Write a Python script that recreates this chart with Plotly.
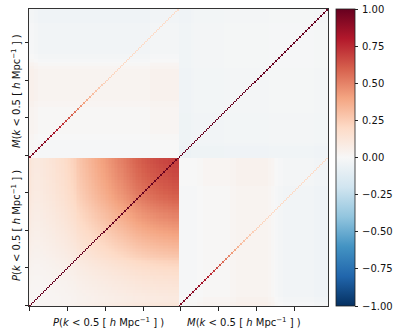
import plotly.graph_objects as go
import plotly.express as px

# ---- data (per k-bin, 99 bins per block) ----
block_names = ["P", "M"]
tick_vals = [0, 25, 50, 75, 100, 125, 150, 175]
cbar_ticks = [-1.0, -0.75, -0.5, -0.25, 0.0, 0.25, 0.5, 0.75, 1.0]

# amplitude of the P-P off-diagonal correlation (r_ij ~ a_i * a_j)
pp_amp = [0.16, 0.14, 0.13, 0.12, 0.12, 0.12, 0.12, 0.13, 0.13, 0.14,
          0.14, 0.15, 0.15, 0.16, 0.16, 0.17, 0.17, 0.18, 0.19, 0.19,
          0.20, 0.21, 0.21, 0.22, 0.23, 0.24, 0.25, 0.26, 0.27, 0.28,
          0.29, 0.31, 0.33, 0.34, 0.35, 0.36, 0.37, 0.38, 0.39, 0.40,
          0.41, 0.42, 0.43, 0.44, 0.45, 0.46, 0.47, 0.48, 0.49, 0.50,
          0.51, 0.52, 0.53, 0.54, 0.55, 0.56, 0.57, 0.58, 0.59, 0.60,
          0.60, 0.61, 0.62, 0.63, 0.64, 0.65, 0.66, 0.67, 0.68, 0.69,
          0.70, 0.71, 0.72, 0.72, 0.73, 0.74, 0.74, 0.75, 0.76, 0.76,
          0.77, 0.77, 0.78, 0.78, 0.79, 0.79, 0.80, 0.80, 0.80, 0.81,
          0.81, 0.81, 0.82, 0.82, 0.82, 0.83, 0.83, 0.83, 0.83]

# P_i - M_i cross correlation (diagonal of the off-diagonal blocks)
mp_diag = [0.95, 0.95, 0.94, 0.94, 0.93, 0.93, 0.92, 0.92, 0.91, 0.90,
           0.89, 0.88, 0.87, 0.86, 0.85, 0.84, 0.83, 0.82, 0.80, 0.79,
           0.77, 0.75, 0.73, 0.71, 0.69, 0.67, 0.64, 0.62, 0.60, 0.57,
           0.55, 0.52, 0.50, 0.48, 0.45, 0.43, 0.41, 0.39, 0.37, 0.35,
           0.34, 0.32, 0.31, 0.30, 0.29, 0.28, 0.27, 0.26, 0.25, 0.25,
           0.24, 0.24, 0.23, 0.23, 0.22, 0.22, 0.22, 0.21, 0.21, 0.21,
           0.21, 0.20, 0.20, 0.20, 0.20, 0.20, 0.20, 0.20, 0.20, 0.20,
           0.20, 0.20, 0.20, 0.20, 0.20, 0.20, 0.19, 0.19, 0.19, 0.19,
           0.19, 0.19, 0.19, 0.19, 0.19, 0.19, 0.19, 0.19, 0.19, 0.19,
           0.19, 0.19, 0.19, 0.19, 0.19, 0.19, 0.19, 0.19, 0.19]

# M-P off-diagonal level per M bin and per P bin
m_off = [-0.01, -0.01, -0.01, -0.01, -0.01, -0.01, -0.01, -0.01, -0.01, -0.01,
         -0.01, -0.01, 0.00, 0.00, 0.00, 0.00, 0.01, 0.01, 0.01, 0.01,
         0.01, 0.01, 0.01, 0.01, 0.01, 0.01, 0.01, 0.01, 0.01, 0.01,
         0.01, 0.01, 0.01, 0.01, 0.02, 0.02, 0.02, 0.02, 0.03, 0.03,
         0.03, 0.03, 0.03, 0.03, 0.03, 0.03, 0.03, 0.03, 0.03, 0.03,
         0.03, 0.03, 0.03, 0.03, 0.03, 0.03, 0.03, 0.03, 0.03, 0.02,
         0.02, 0.01, 0.01, 0.00, -0.01, -0.01, -0.02, -0.02, -0.02, -0.03,
         -0.03, -0.03, -0.03, -0.03, -0.03, -0.03, -0.03, -0.03, -0.03, -0.03,
         -0.03, -0.03, -0.03, -0.03, -0.03, -0.03, -0.03, -0.03, -0.03, -0.03,
         -0.04, -0.04, -0.04, -0.04, -0.04, -0.04, -0.04, -0.04, -0.04]
p_off = [0.02, 0.02, 0.02, 0.01, 0.01, 0.01, 0.00, 0.00, 0.00, 0.00,
         0.00, 0.00, 0.00, 0.00, 0.00, 0.00, 0.00, 0.00, 0.00, 0.00,
         0.00, 0.00, 0.00, 0.00, 0.00, 0.00, 0.00, 0.00, 0.00, 0.00,
         0.00, 0.00, 0.00, 0.00, 0.00, 0.00, 0.00, 0.00, 0.00, 0.00,
         0.00, 0.00, 0.00, 0.00, 0.00, 0.00, 0.00, 0.00, 0.00, 0.00,
         0.00, 0.00, 0.00, 0.00, 0.00, 0.00, 0.00, 0.00, 0.00, 0.00,
         0.00, 0.00, 0.00, 0.00, 0.00, 0.00, 0.00, 0.00, 0.00, 0.00,
         0.00, 0.00, 0.00, 0.00, 0.00, 0.00, 0.00, 0.00, 0.00, 0.00,
         0.01, 0.01, 0.01, 0.01, 0.01, 0.01, 0.01, 0.01, 0.01, 0.01,
         0.01, 0.01, 0.01, 0.01, 0.01, 0.01, 0.01, 0.01, 0.01]

# M-M off-diagonal level per M bin
mm_lvl = [-0.03, -0.03, -0.03, -0.03, -0.03, -0.03, -0.03, -0.03, -0.02, -0.02,
          -0.015, -0.015, -0.015, -0.015, -0.015, -0.015, -0.015, -0.015, -0.015, -0.015,
          -0.015, -0.015, -0.015, -0.015, -0.015, -0.015, -0.015, -0.015, -0.015, -0.015,
          -0.01, -0.01, -0.01, -0.01, -0.01, -0.01, -0.01, -0.01, -0.01, -0.01,
          -0.01, -0.01, -0.01, -0.01, -0.01, -0.01, -0.01, -0.01, -0.01, -0.01,
          -0.01, -0.01, -0.01, -0.01, -0.01, -0.01, -0.01, -0.01, -0.01, -0.01,
          -0.005, -0.005, -0.005, -0.005, -0.005, -0.005, -0.005, -0.005, -0.005, -0.005,
          -0.005, -0.005, -0.005, -0.005, -0.005, -0.005, -0.005, -0.005, -0.005, -0.005,
          -0.005, -0.005, -0.005, -0.005, -0.005, -0.005, -0.005, -0.005, -0.005, -0.005,
          -0.01, -0.01, -0.01, -0.01, -0.01, -0.01, -0.01, -0.01, -0.01]

# ---- build the correlation matrix ----
nb = len(pp_amp)
n = 2 * nb
z = [[0.0] * n for _ in range(n)]
for r in range(n):
    for c in range(n):
        br, ir = divmod(r, nb)
        bc, ic = divmod(c, nb)
        if r == c:
            v = 1.0
        elif br == 0 and bc == 0:
            v = pp_amp[ir] * pp_amp[ic]
        elif br == 1 and bc == 1:
            v = mm_lvl[ir] + mm_lvl[ic]
        else:
            im = ir if br == 1 else ic
            ip = ic if br == 1 else ir
            v = mp_diag[im] if im == ip else m_off[im] + p_off[ip]
        z[r][c] = v

rdbu = px.colors.diverging.RdBu[::-1]
cscale = [[i / (len(rdbu) - 1), col] for i, col in enumerate(rdbu)]

# plot area in pixels: x 29..328, y 9..306
PL, PR, PT, PB = 29, 328, 9, 306
PW, PH = PR - PL, PB - PT

fig = go.Figure()
fig.add_trace(go.Heatmap(
    z=z, x=list(range(n)), y=list(range(n)),
    zmin=-1, zmax=1, colorscale=cscale,
    colorbar=dict(
        x=(336 - PL) / PW, xanchor="left", xpad=0, ypad=0,
        y=0.5, yanchor="middle", len=1.0, lenmode="fraction",
        thickness=19, outlinewidth=0.8, outlinecolor="#222",
        tickvals=cbar_ticks, showticklabels=False,
        ticks="outside", ticklen=3.5, tickwidth=0.8, tickcolor="#222",
    ),
))

axis_common = dict(
    tickvals=tick_vals, showticklabels=False, ticks="outside", ticklen=3.5,
    tickwidth=0.8, tickcolor="#222", showline=True, mirror=True,
    linecolor="#333", linewidth=1, showgrid=False, zeroline=False,
    range=[-0.5, n - 0.5],
)
fig.update_xaxes(**axis_common)
fig.update_yaxes(**axis_common)

label = "<i>{}</i>(<i>k</i> &lt; 0.5 [ <i>h</i> Mpc<sup>\u22121</sup> ] )"
font = dict(family="DejaVu Sans", size=10, color="#111")
ann = []
# x labels (pixel centres 108, 244 ; y 322)
for name, xc in zip(block_names, [108, 244]):
    ann.append(dict(text=label.format(name), xref="paper", yref="paper",
                    x=(xc - PL) / PW, y=(PB - 322) / PH, xanchor="center",
                    yanchor="middle", showarrow=False, font=font))
# y labels (pixel centres 226 for P, 91 for M ; x 16)
for name, yc in zip(block_names, [226, 91]):
    ann.append(dict(text=label.format(name), xref="paper", yref="paper",
                    x=(16 - PL) / PW, y=(PB - yc) / PH, xanchor="center",
                    yanchor="middle", textangle=-90, showarrow=False, font=font))
# colorbar tick labels
for v in cbar_ticks:
    ann.append(dict(text=f"{v:.2f}".replace("-", "\u2212"), xref="paper", yref="paper",
                    x=(360 - PL) / PW, y=(v + 1) / 2, xanchor="left",
                    yanchor="middle", showarrow=False,
                    font=dict(family="DejaVu Sans", size=10, color="#111")))

fig.update_layout(
    width=395, height=336,
    margin=dict(l=PL, r=395 - PR, t=PT, b=336 - PB),
    paper_bgcolor="white", plot_bgcolor="white",
    annotations=ann, showlegend=False,
)
fig.write_html("out.html", config={"displayModeBar": False},
               post_script="document.body.style.margin='0';document.body.style.overflow='hidden';")
